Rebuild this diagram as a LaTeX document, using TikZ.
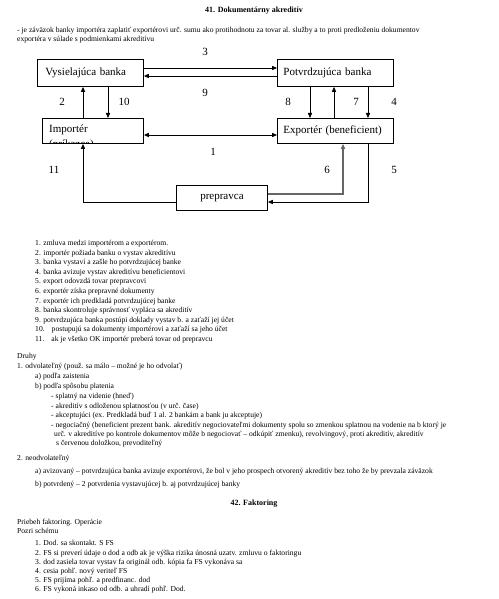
\documentclass[tikz,border=0pt]{standalone}
\usepackage{fontspec}
\setmainfont{Liberation Serif}
\usetikzlibrary{arrows.meta}
\begin{document}
\begin{tikzpicture}[x=1pt,y=-1pt,
  box/.style={draw,line width=0.9pt,anchor=north west,inner ysep=0pt,align=left,font=\fontsize{11}{12.6}\selectfont},
  arr/.style={line width=0.8pt,-{Triangle[length=5pt,width=4.2pt]}},
  dbl/.style={line width=0.8pt,{Triangle[length=5pt,width=4.2pt]}-{Triangle[length=5pt,width=4.2pt]}},
  num/.style={font=\fontsize{11}{12}\selectfont,inner sep=0pt},
  txt/.style={font=\fontsize{7.6}{9.6}\selectfont,anchor=base west,inner sep=0pt},
  ttl/.style={font=\fontsize{8}{9.6}\selectfont\bfseries,anchor=base,inner sep=0pt}]
\useasboundingbox (0,0) rectangle (498,599);

% ---------- header ----------
\node[ttl] (h41) at (254,12.5) {41. Dokumentárny akreditív};
\node[txt] (p1) at (17,32.5) {- je záväzok banky importéra zaplatiť exportérovi urč. sumu ako protihodnotu za tovar al. služby a to proti predloženiu dokumentov};
\node[txt] (p2) at (17,41.5) {exportéra v súlade s podmienkami akreditívu};

% ---------- diagram ----------
\node[box,minimum width=106pt,minimum height=27pt,text width=90pt,inner xsep=8pt] (vys) at (37,59) {Vysielajúca banka};
\node[box,minimum width=116pt,minimum height=27pt,text width=104pt,inner xsep=6pt] (pot) at (277,59) {Potvrdzujúca banka};
\node[box,minimum width=101pt,minimum height=25pt] (imp) at (42,118) {};
\begin{scope}
  \clip (imp.south west) rectangle (imp.north east);
  \node[anchor=base west,inner sep=0pt,align=left,font=\fontsize{11}{14.8}\selectfont] (imptxt) at (49,147.2) {Importér\\(príkazca)};
\end{scope}
\node[box,minimum width=116pt,minimum height=25pt,text width=104pt,inner xsep=6pt] (exp) at (277,118) {Exportér (beneficient)};
\node[box,minimum width=91pt,minimum height=25pt,align=center] (pre) at (176,185) {prepravca};

\coordinate (r3) at (0,68);
\coordinate (r9) at (0,76);
\coordinate (r1) at (0,135);
\coordinate (r6) at (0,194);
\coordinate (r11) at (0,202);
\coordinate (c2) at (83,0);
\coordinate (c10) at (108,0);
\coordinate (c8) at (310,0);
\coordinate (c7) at (334,0);
\coordinate (c4) at (368,0);
\coordinate (c6) at (343,0);

\draw[arr] (vys.east |- r3) -- (pot.west |- r3);
\draw[arr] (pot.west |- r9) -- (vys.east |- r9);
\draw[arr] (imp.north -| c2) -- (vys.south -| c2);
\draw[arr] (vys.south -| c10) -- (imp.north -| c10);
\draw[arr] (pot.south -| c8) -- (exp.north -| c8);
\draw[arr] (exp.north -| c7) -- (pot.south -| c7);
\draw[arr] (pot.south -| c4) -- (exp.north -| c4);
\draw[dbl] (imp.east |- r1) -- (exp.west |- r1);
\draw[arr] (pre.west |- r11) -| (imp.south -| c2);
\draw[arr,color=black!60,line width=1.1pt] (pre.east |- r6) -| (exp.south -| c6);
\draw[arr] (exp.south -| c4) |- (pre.east |- r11);

\node[num] (n3) at (205,52) {3};
\node[num] (n9) at (205,93) {9};
\node[num] (n2) at (62,102) {2};
\node[num] (n10) at (124,102) {10};
\node[num] (n8) at (288,102) {8};
\node[num] (n7) at (356,102) {7};
\node[num] (n4) at (394,102) {4};
\node[num] (n1) at (213,152) {1};
\node[num] (n11) at (54,170) {11};
\node[num] (n6) at (327,170) {6};
\node[num] (n5) at (394,170) {5};

% ---------- numbered list ----------
\node[txt] (l1) at (35,245.5) {1. zmluva medzi importérom a exportérom.};
\node[txt] (l2) at (35,255.1) {2. importér požiada banku o vystav akreditívu};
\node[txt] (l3) at (35,264.7) {3. banka vystaví a zašle ho potvrdzujúcej banke};
\node[txt] (l4) at (35,274.3) {4. banka avizuje vystav akreditívu beneficientovi};
\node[txt] (l5) at (35,283.9) {5. export odovzdá tovar prepravcovi};
\node[txt] (l6) at (35,293.5) {6. exportér získa prepravné dokumenty};
\node[txt] (l7) at (35,303.1) {7. exportér ich predkladá potvrdzujúcej banke};
\node[txt] (l8) at (35,312.7) {8. banka skontroluje správnosť vypláca sa akreditív};
\node[txt] (l9) at (35,322.3) {9. potvrdzujúca banka postúpi doklady vystav b. a zaťaží jej účet};
\node[txt] (l10) at (35,331.9) {10.\hspace{7pt}postupujú sa dokumenty importérovi a zaťaží sa jeho účet};
\node[txt] (l11) at (35,341.5) {11.\hspace{7pt}ak je všetko OK importér preberá tovar od prepravcu};

% ---------- druhy ----------
\node[txt] (d0) at (17,358.5) {Druhy};
\node[txt] (d1) at (17,368.5) {1. odvolateľný (použ. sa málo – možné je ho odvolať)};
\node[txt] (d2) at (35,378.5) {a) podľa zaistenia};
\node[txt] (d3) at (35,388.5) {b) podľa spôsobu platenia};
\node[txt] (d4) at (51,398.5) {- splatný na videnie (hneď)};
\node[txt] (d5) at (51,408.5) {- akreditív s odloženou splatnosťou (v urč. čase)};
\node[txt] (d6) at (51,417.5) {- akceptujúci (ex. Predkladá buď 1 al. 2 bankám a bank ju akceptuje)};
\node[txt] (d7) at (51,427.5) {- negociačný (beneficient prezent bank. akreditív negociovateľmi dokumenty spolu so zmenkou splatnou na vodenie na b ktorý je};
\node[txt] (d8) at (54,436.5) {urč. v akreditíve po kontrole dokumentov môže b negociovať – odkúpiť zmenku), revolvingový, proti akreditív, akreditív};
\node[txt] (d9) at (56,445.5) {s červenou doložkou, prevoditeľný};
\node[txt] (d10) at (17,460) {2. neodvolateľný};
\node[txt] (d11) at (35,473.5) {a) avizovaný – potvrdzujúca banka avizuje exportérovi, že bol v jeho prospech otvorený akreditív bez toho že by prevzala záväzok};
\node[txt] (d12) at (35,486.5) {b) potvrdený – 2 potvrdenia vystavujúcej b. aj potvrdzujúcej banky};

% ---------- faktoring ----------
\node[ttl] (h42) at (254,505.5) {42. Faktoring};
\node[txt] (f0) at (17,524.5) {Priebeh faktoring. Operácie};
\node[txt] (f00) at (17,533.5) {Pozri schému};
\node[txt] (f1) at (35,545.5) {1. Dod. sa skontakt. S FS};
\node[txt] (f2) at (35,555) {2. FS si preverí údaje o dod a odb ak je výška rizika únosná uzatv. zmluvu o faktoringu};
\node[txt] (f3) at (35,564.5) {3. dod zasiela tovar vystav fa originál odb. kópia fa FS vykonáva sa};
\node[txt] (f4) at (35,573.5) {4. cesia pohľ. nový veriteľ FS};
\node[txt] (f5) at (35,582.5) {5. FS prijíma pohľ. a predfinanc. dod};
\node[txt] (f6) at (35,591.5) {6. FS vykoná inkaso od odb. a uhradí pohľ. Dod.};
\end{tikzpicture}
\end{document}
